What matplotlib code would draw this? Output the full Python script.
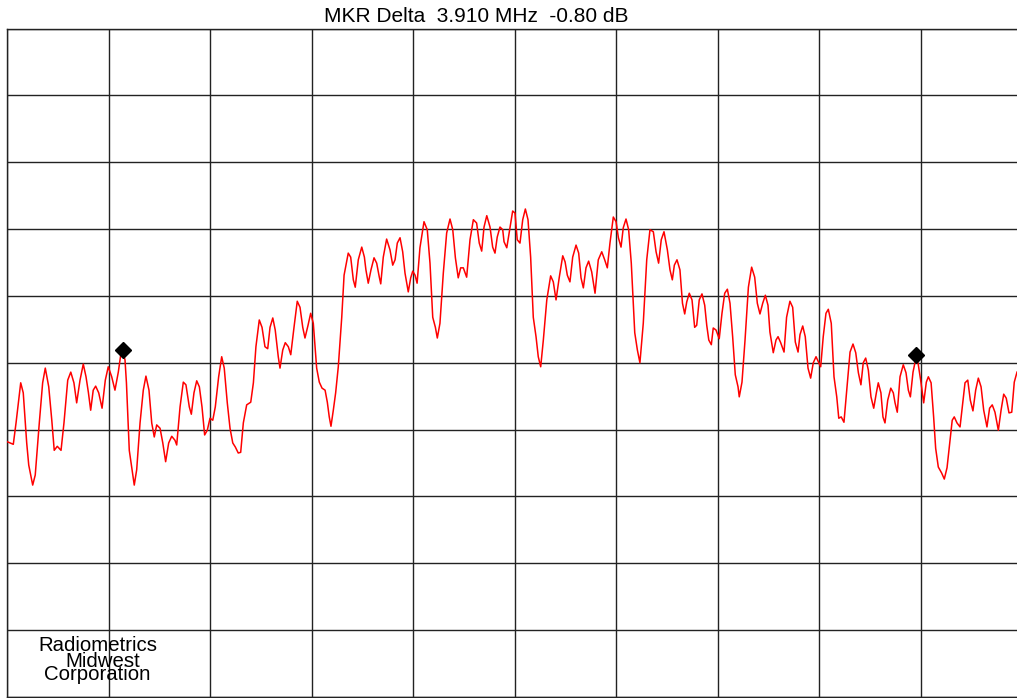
import matplotlib
matplotlib.use("Agg")
import matplotlib.pyplot as plt

plt.rcParams['font.family'] = ['Liberation Sans', 'DejaVu Sans']

# trace bin (0..1000, 1001-point sweep, right edge of screen cropped) and level in dB (ref 0 dB, 10 dB/div)
bins = [0, 6.2, 8.9, 13.5, 16.0, 19.4, 21.4, 25.3, 27.8, 31.8, 35.1, 37.7, 41.1, 44.1, 46.5,
        49.5, 53.2, 56.1, 59.8, 62.8, 65.9, 68.6, 71.9, 75.1, 77.8, 80.1, 82.4, 84.9, 87.3,
        90.3, 93.6, 96.8, 99.7, 103.1, 106.3, 109.6, 112.0, 113.8, 116.2, 117.6, 120.4,
        122.8, 125.3, 127.7, 131.0, 134.2, 136.8, 139.8, 142.5, 145.0, 147.4, 150.7, 153.4,
        156.2, 159.2, 162.2, 165.4, 167.1, 170.4, 173.6, 176.2, 179.5, 181.5, 184.1, 186.8,
        189.4, 192.0, 194.6, 197.2, 199.9, 202.6, 205.1, 208.4, 211.4, 213.9, 216.9, 219.6,
        222.3, 224.8, 227.7, 230.1, 232.7, 236.0, 240.0, 242.6, 245.1, 248.4, 251.1, 254.0,
        256.7, 259.0, 261.7, 264.1, 267.1, 268.8, 271.5, 274.0, 277.0, 279.4, 282.6, 285.8,
        288.5, 291.2, 293.4, 296.4, 299.0, 301.6, 304.9, 307.5, 310.2, 313.2, 315.4, 317.3,
        319.0, 321.3, 323.6, 326.2, 329.6, 331.9, 336.0, 338.4, 341.0, 342.9, 345.9, 349.3,
        351.9, 353.4, 355.7, 358.4, 361.4, 364.0, 366.6, 368.0, 370.5, 373.8, 377.1, 379.8,
        382.1, 384.3, 387.0, 389.6, 391.9, 395.1, 397.5, 399.5, 401.8, 403.8, 406.6, 410.6,
        413.8, 416.5, 419.2, 421.8, 423.7, 426.3, 429.6, 432.9, 436.2, 438.9, 441.5, 444.3,
        446.7, 449.3, 452.6, 455.9, 459.2, 462.4, 465.0, 467.4, 469.7, 472.4, 475.6, 478.2,
        480.5, 482.7, 485.4, 488.1, 489.4, 492.1, 494.6, 497.9, 500.2, 502.4, 505.1, 507.8,
        510.4, 513.0, 515.6, 518.2, 520.9, 523.1, 525.5, 528.1, 531.5, 535.3, 537.9, 540.6,
        543.8, 547.2, 549.5, 551.7, 554.3, 557.0, 560.3, 562.9, 565.2, 567.5, 570.1, 572.7,
        575.7, 579.0, 582.2, 585.6, 588.5, 591.1, 593.7, 597.0, 599.7, 602.0, 604.6, 606.8,
        609.5, 612.1, 614.7, 618.1, 620.7, 623.2, 626.5, 629.9, 633.1, 636.4, 639.1, 641.6,
        644.2, 646.9, 650.2, 652.8, 655.1, 657.1, 659.7, 662.6, 665.1, 667.3, 669.3, 671.8,
        674.5, 677.1, 679.1, 681.6, 684.3, 687.0, 689.0, 691.0, 693.5, 695.4, 698.1, 701.3,
        704.0, 706.7, 709.3, 711.9, 714.5, 717.1, 719.8, 721.0, 723.7, 726.7, 730.0, 733.2,
        736.2, 738.8, 741.4, 744.1, 746.7, 749.3, 751.2, 754.5, 757.2, 759.2, 761.8, 765.1,
        767.6, 770.9, 773.6, 776.2, 778.9, 780.8, 783.5, 786.0, 788.7, 791.3, 793.9, 796.6,
        799.3, 801.2, 803.7, 806.4, 808.7, 811.6, 814.3, 817.0, 819.0, 821.4, 824.1, 826.8,
        830.1, 833.0, 835.7, 838.3, 840.8, 843.1, 845.5, 848.1, 850.7, 853.4, 856.0, 857.9,
        860.5, 862.5, 864.5, 867.2, 870.2, 872.7, 874.4, 876.6, 879.3, 882.5, 885.2, 887.5,
        889.5, 892.1, 895.5, 897.3, 900.0, 902.6, 905.2, 907.2, 909.9, 912.4, 914.4, 917.0,
        920.3, 922.9, 925.6, 928.3, 930.7, 932.7, 935.4, 938.4, 940.6, 943.3, 946.0, 948.5,
        951.1, 953.8, 956.4, 959.1, 961.7, 964.9, 967.5, 970.1, 972.8, 976.1, 978.8, 981.4,
        983.9, 986.6, 989.3, 991.8, 994.5]
level = [-61.8, -62.2, -59.0, -53.0, -54.5, -62.0, -65.3, -68.3, -66.8, -59.0, -53.0, -50.8,
         -53.6, -58.6, -63.1, -62.5, -63.1, -59.0, -52.6, -51.4, -53.0, -56.0, -52.6, -50.2,
         -52.1, -54.4, -57.1, -54.1, -53.5, -54.5, -56.8, -52.6, -50.6, -52.1, -54.1, -51.4,
         -48.8, -48.1, -49.6, -53.0, -63.1, -65.6, -68.3, -66.0, -59.0, -54.1, -52.0, -54.1,
         -59.0, -61.1, -59.3, -59.8, -62.0, -64.8, -62.0, -61.0, -61.6, -62.3, -56.6, -52.9,
         -53.3, -56.6, -57.7, -54.5, -52.7, -53.6, -56.6, -60.8, -60.1, -58.3, -58.6, -56.6,
         -52.1, -49.1, -50.8, -56.0, -59.8, -62.0, -62.6, -63.5, -63.4, -59.0, -56.3, -55.9,
         -53.0, -47.6, -43.6, -44.7, -47.6, -47.9, -44.7, -43.3, -45.1, -49.1, -50.8, -48.1,
         -47.0, -47.6, -48.8, -44.7, -40.8, -41.7, -44.7, -46.3, -44.4, -42.6, -44.1, -50.8,
         -52.9, -53.8, -54.1, -55.9, -58.1, -59.5, -57.1, -54.5, -50.6, -43.2, -36.9, -33.6,
         -34.2, -37.6, -38.7, -34.6, -32.7, -34.2, -36.1, -38.1, -36.1, -34.3, -35.1, -37.2,
         -38.2, -34.2, -31.5, -33.1, -35.4, -34.6, -32.1, -31.3, -33.4, -36.6, -39.4, -37.3,
         -36.3, -36.9, -38.1, -32.8, -28.9, -30.1, -35.1, -43.2, -44.7, -46.3, -44.1, -36.6,
         -30.6, -28.5, -30.1, -34.3, -37.3, -35.8, -35.8, -37.2, -31.6, -28.6, -29.1, -32.1,
         -33.3, -29.7, -28.0, -29.7, -32.7, -33.6, -31.2, -29.7, -30.1, -31.9, -32.8, -30.4,
         -27.3, -27.6, -31.6, -32.1, -28.6, -27.0, -28.6, -34.2, -43.2, -46.1, -49.1, -50.6,
         -46.6, -40.6, -37.0, -37.9, -40.6, -37.2, -34.0, -34.9, -36.9, -37.9, -34.2, -32.4,
         -33.6, -37.3, -38.8, -35.8, -34.8, -36.4, -39.6, -34.6, -33.4, -34.6, -35.8, -32.1,
         -28.2, -28.9, -31.3, -32.7, -29.8, -28.5, -30.1, -35.1, -45.5, -48.1, -50.0, -44.1,
         -34.6, -30.1, -30.4, -33.4, -35.1, -31.6, -30.4, -33.1, -36.1, -37.6, -35.4, -34.6,
         -36.1, -41.1, -42.7, -40.9, -39.6, -40.6, -44.7, -44.4, -40.6, -39.7, -41.4, -44.4,
         -46.6, -47.3, -44.8, -45.1, -46.4, -42.6, -39.6, -39.0, -41.1, -46.1, -51.8, -53.6,
         -55.1, -52.9, -46.6, -38.7, -35.7, -37.2, -41.1, -42.7, -41.1, -39.9, -41.4, -45.4,
         -48.5, -46.6, -46.1, -47.0, -48.4, -43.2, -40.8, -41.7, -46.9, -48.4, -45.8, -44.5,
         -46.1, -50.8, -52.3, -50.0, -49.1, -50.0, -50.6, -46.1, -42.6, -42.0, -44.1, -52.1,
         -55.1, -58.3, -58.1, -58.9, -54.1, -48.4, -47.2, -48.5, -51.5, -53.3, -50.0, -49.3,
         -51.1, -55.1, -56.8, -54.5, -53.0, -54.5, -58.1, -59.0, -55.6, -53.8, -54.5, -56.0,
         -57.4, -52.1, -50.3, -51.5, -54.1, -55.1, -51.4, -48.9, -50.3, -53.0, -56.0, -52.9,
         -52.1, -53.0, -58.1, -62.8, -65.6, -66.5, -67.4, -65.7, -62.0, -58.6, -58.1, -59.0,
         -59.6, -56.6, -53.0, -52.6, -55.6, -57.2, -54.1, -52.3, -53.6, -57.1, -59.6, -56.8,
         -56.3, -57.4, -60.1, -57.1, -54.7, -55.3, -57.5, -57.4, -52.9, -51.4]

mkr_bins = [113.8, 895.5]
mkr_level = [-48.1, -48.9]

fig = plt.figure(figsize=(10.17, 6.98), dpi=100)
# screen is 10 divisions wide; the right edge of the capture is cut off
ax = fig.add_axes([7 / 1017, 1 / 698, 1015.6 / 1017, 668.5 / 698])
ax.set_xlim(0, 1000)
ax.set_ylim(-100, 0)
ax.set_xticks(range(0, 1001, 100))
ax.set_yticks(range(-100, 1, 10))
ax.tick_params(length=0, labelbottom=False, labelleft=False)
ax.grid(True, color='#222222', linewidth=1.0)
for s in ax.spines.values():
    s.set_color('#222222')
    s.set_linewidth(1.0)

ax.plot(bins, level, color='red', linewidth=1.1, zorder=3)
ax.plot(mkr_bins, mkr_level, linestyle='none', marker='D', markersize=8,
        color='black', zorder=4)

fig.text(476 / 1017, 1 - 17 / 698, "MKR Delta  3.910 MHz  -0.80 dB",
         ha='center', va='center', fontsize=15)
ax.text(89.6, -93.1, "Radiometrics", ha='center', va='baseline', fontsize=14.7)
ax.text(94.0, -95.5, "Midwest", ha='center', va='baseline', fontsize=14.7)
ax.text(89.1, -97.5, "Corporation", ha='center', va='baseline', fontsize=14.7)

fig.savefig("out.png", dpi=100)
